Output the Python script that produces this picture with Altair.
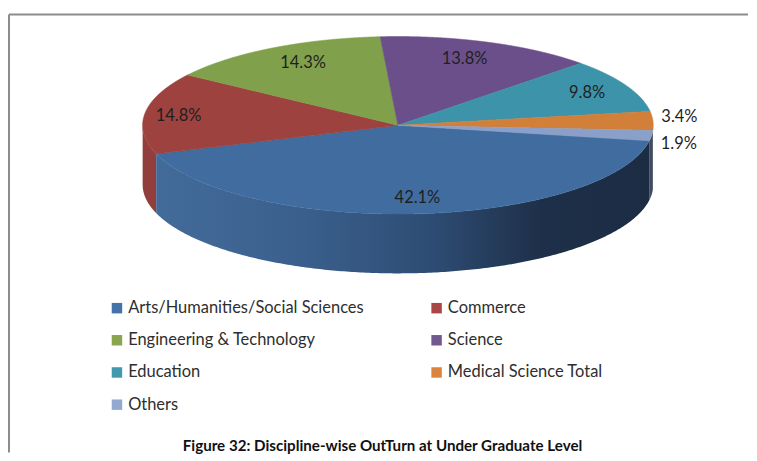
import numpy as np
import pandas as pd
import altair as alt

categories = ["Arts/Humanities/Social Sciences", "Commerce", "Engineering & Technology",
              "Science", "Education", "Medical Science Total", "Others"]
shares = [42.1, 14.8, 14.3, 13.8, 9.8, 3.4, 1.9]
face_colors = ["#406C9F", "#9E423F", "#81A04B", "#6B4F8A", "#3D93AA", "#D17F39", "#8BA0C8"]
legend_colors = ["#4572A7", "#AA4643", "#89A54E", "#71588F", "#4198AF", "#DB843D", "#93A9CF"]
caption = "Figure 32: Discipline-wise OutTurn at Under Graduate Level"

# layout (page pixels)
W, H = 741, 445
CX, CY, RX, RY, DEPTH = 398.0, 125.0, 256.0, 89.0, 59.5
START = 9.7
LABEL_REACH = 0.82
OUTER_REACH = 1.10
label_nudge_x = [3, -12, 9, -8, 2, 1, 2]
label_nudge_y = [0, 1, 1, 2, 0, -3, 7]

xs_dom = [(8 - CX) / RX, (8 + W - CX) / RX]
ys_dom = [(8 - CY) / RY, (8 + H - CY) / RY]
x_scale = alt.Scale(domain=xs_dom, range=[0, W], nice=False, zero=False)
y_scale = alt.Scale(domain=ys_dom, range=[0, H], nice=False, zero=False)
depth = DEPTH / RY


def wedge_rows(name, t0, t1):
    ts = np.radians(np.linspace(t0, t1, max(int((t1 - t0) * 3), 8)))
    px = np.concatenate([[0.0], np.cos(ts)])
    py = np.concatenate([[0.0], np.sin(ts)])
    cuts = np.unique(np.concatenate([px, np.linspace(px.min(), px.max(), 500)]))
    rows = []
    n = len(px)
    for c in cuts:
        hits = []
        for i in range(n):
            j = (i + 1) % n
            a, b = px[i], px[j]
            if min(a, b) <= c <= max(a, b):
                if a == b:
                    hits += [py[i], py[j]]
                else:
                    hits.append(py[i] + (c - a) / (b - a) * (py[j] - py[i]))
        if hits:
            rows.append({"name": name, "u": c, "v": min(hits), "v2": max(hits)})
    return rows


def wall_frame(t0, t1):
    ts = np.radians(np.linspace(t0, t1, 240))
    d = pd.DataFrame({"u": np.cos(ts), "v": np.sin(ts)})
    d["v2"] = d["v"] + depth
    return d.sort_values("u")


edges = START + np.concatenate([[0], np.cumsum(shares)]) * 3.6
rows = []
for i, name in enumerate(categories):
    rows += wedge_rows(name, edges[i], edges[i + 1])
tops = pd.DataFrame(rows)

enc = dict(
    x=alt.X("u:Q", scale=x_scale, axis=None),
    y=alt.Y("v:Q", scale=y_scale, axis=None, stack=None),
    y2="v2:Q",
)
top_layer = alt.Chart(tops).mark_area(strokeWidth=0.6).encode(
    fill=alt.Fill("name:N", scale=alt.Scale(domain=categories, range=face_colors), legend=None),
    stroke=alt.Stroke("name:N", scale=alt.Scale(domain=categories, range=face_colors), legend=None),
    **enc,
)

arts_gradient = alt.Gradient(
    gradient="linear", x1=0, x2=1, y1=0, y2=0,
    stops=[
        alt.GradientStop(offset=0.0, color="#436B9A"),
        alt.GradientStop(offset=0.3, color="#3A5F8C"),
        alt.GradientStop(offset=0.55, color="#2E4D75"),
        alt.GradientStop(offset=0.78, color="#1E3049"),
        alt.GradientStop(offset=1.0, color="#1B2C43"),
    ],
)
wall_arts = alt.Chart(wall_frame(edges[0], edges[1])).mark_area(color=arts_gradient).encode(**enc)
wall_comm = alt.Chart(wall_frame(edges[1], 180)).mark_area(color="#923E3C").encode(**enc)
wall_others = alt.Chart(wall_frame(edges[-2] - 360, edges[0])).mark_area(color="#3F4C60").encode(**enc)

mids = np.radians((edges[:-1] + edges[1:]) / 2)
reach = [LABEL_REACH] * 5 + [OUTER_REACH] * 2
labels = pd.DataFrame({
    "name": categories,
    "txt": [f"{s:.1f}%" for s in shares],
    "u": [np.cos(m) * r + dx / RX for m, r, dx in zip(mids, reach, label_nudge_x)],
    "v": [np.sin(m) * r + dy / RY for m, r, dy in zip(mids, reach, label_nudge_y)],
})
label_layer = alt.Chart(labels).mark_text(font="Lato", fontSize=16.5, color="#1F1F1F").encode(
    x=alt.X("u:Q", scale=x_scale, axis=None),
    y=alt.Y("v:Q", scale=y_scale, axis=None),
    text="txt:N",
)

legend_layer = alt.Chart(pd.DataFrame({"name": categories, "u": 0.0, "v": 0.0})).mark_square(size=1, opacity=1).encode(
    x=alt.X("u:Q", scale=x_scale, axis=None),
    y=alt.Y("v:Q", scale=y_scale, axis=None),
    color=alt.Color(
        "name:N",
        scale=alt.Scale(domain=categories, range=legend_colors),
        sort=categories,
        legend=alt.Legend(
            title=None, orient="none", direction="horizontal", legendX=100, legendY=292, columns=2,
            symbolType="square", symbolSize=110, symbolStrokeWidth=0,
            labelFont="Lato", labelFontSize=16.5, labelColor="#2E2E2E", labelLimit=400,
            rowPadding=15.3, columnPadding=64.5, labelOffset=3,
        ),
    ),
)

marker = pd.DataFrame({"t": [caption]})
caption_layer = alt.Chart(marker).mark_text(
    font="Lato", fontSize=15.2, fontWeight="bold", color="#111111", align="center", baseline="middle"
).encode(x=alt.value(374.5), y=alt.value(439), text="t:N")

frame_left = alt.Chart(marker).mark_rule(color="#8C8C8C", strokeWidth=2).encode(
    x=alt.value(0), y=alt.value(6), y2=alt.value(H))
frame_top = alt.Chart(marker).mark_rule(color="#8C8C8C", strokeWidth=2).encode(
    x=alt.value(0), x2=alt.value(W), y=alt.value(6))

chart = alt.layer(
    frame_left, frame_top, legend_layer, wall_others, wall_comm, wall_arts, top_layer, label_layer, caption_layer
).resolve_scale(color="independent").properties(width=W, height=H, padding=0, background="white").configure_view(stroke=None)

chart.save("out.html", embed_options={"renderer": "svg", "actions": False})
